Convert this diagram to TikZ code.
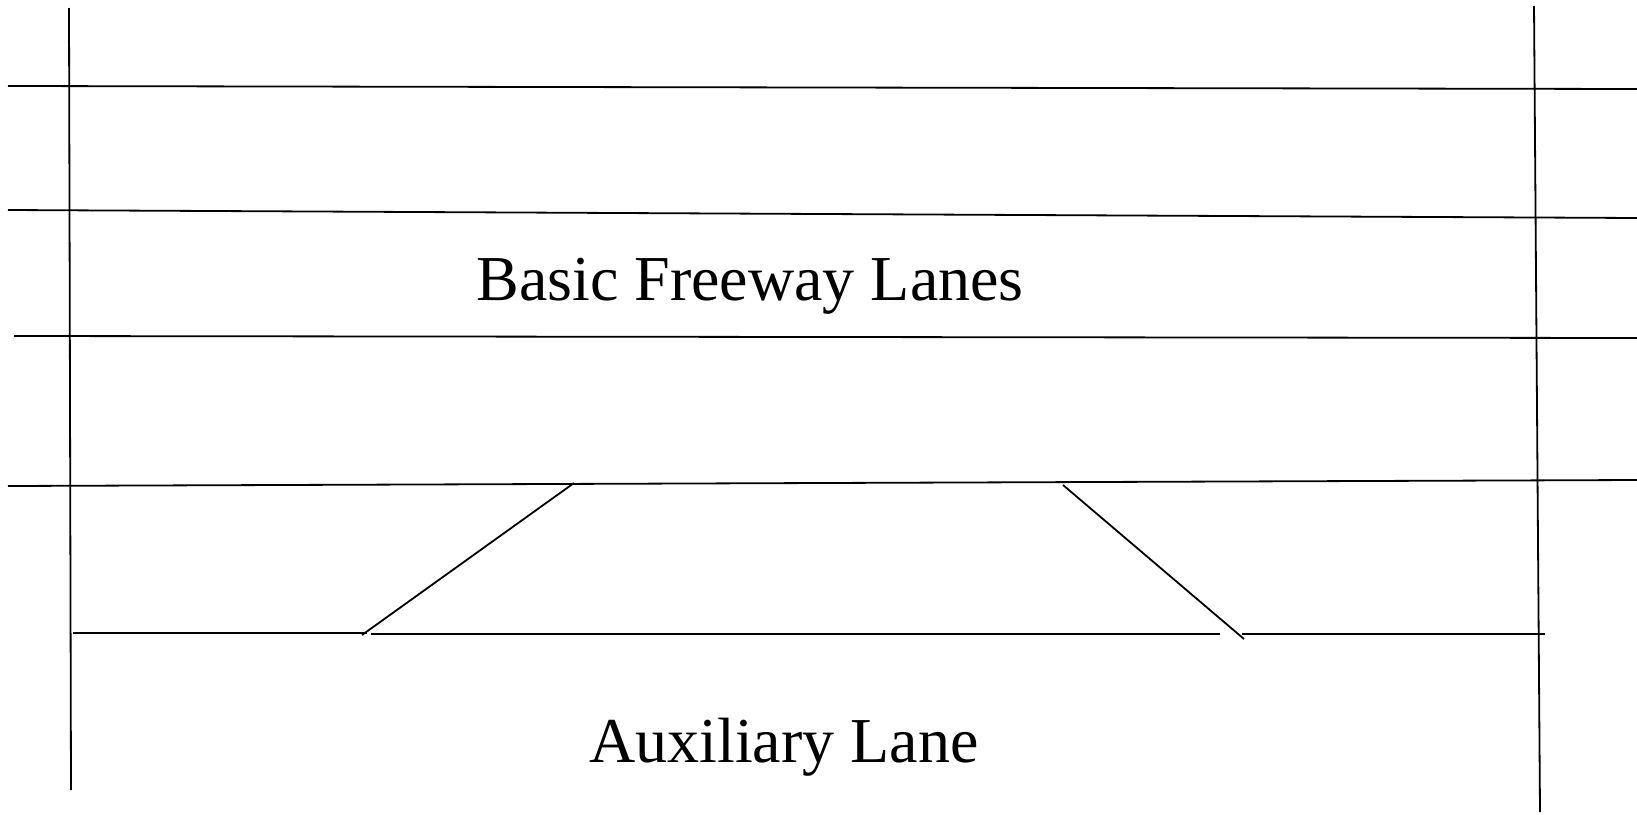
\documentclass[tikz,border=0pt]{standalone}
\usepackage{fontspec}
\setmainfont{Liberation Serif}
\begin{document}
\begin{tikzpicture}[x=1pt,y=-1pt,
  lane/.style={line width=1.8pt, black},
  label/.style={anchor=base, inner sep=0pt, font=\fontsize{64}{76}\selectfont}]
\useasboundingbox (0,0) rectangle (1637,814);
% section boundaries
\draw[lane] (69,8) -- (71,790);
\draw[lane] (1534,6) -- (1540,812);
% freeway lane lines
\draw[lane] (8,86) -- (1637,89);
\draw[lane] (8,210) -- (1637,218);
\draw[lane] (14,336) -- (1637,338);
\draw[lane] (8,486) -- (1637,480);
% auxiliary lane edge
\draw[lane] (73,633) -- (367,633);
\draw[lane] (371,634) -- (1220,634);
\draw[lane] (1242,634) -- (1545,634);
% on-ramp and off-ramp tapers
\draw[lane] (362,635) -- (574,483);
\draw[lane] (1063,485) -- (1244,639);
% labels
\node[label] (basic) at (750,300) {Basic Freeway Lanes};
\node[label] (aux) at (784,762) {Auxiliary Lane};
\end{tikzpicture}
\end{document}
